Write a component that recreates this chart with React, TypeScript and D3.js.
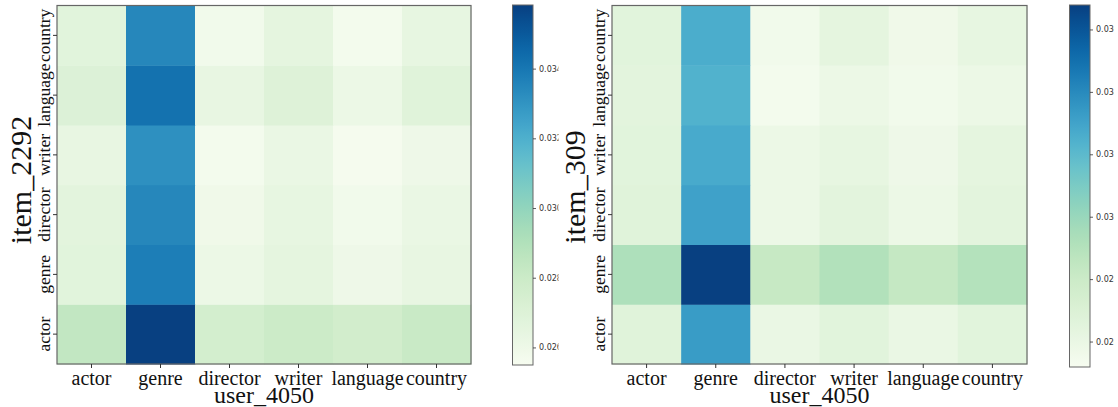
import React from "react";
import * as d3 from "d3";

const userCats = ["actor", "genre", "director", "writer", "language", "country"];
const itemCats = ["actor", "genre", "director", "writer", "language", "country"];

// rows: item category (actor..country), cols: user category (actor..country)
const leftValues: number[][] = [
  [0.0284, 0.03584, 0.02758, 0.02799, 0.02768, 0.02809],
  [0.02675, 0.03377, 0.02613, 0.02654, 0.02603, 0.02634],
  [0.02665, 0.03346, 0.02592, 0.02644, 0.02582, 0.02623],
  [0.02634, 0.03315, 0.02572, 0.02623, 0.02561, 0.02603],
  [0.02706, 0.03419, 0.02634, 0.02696, 0.02613, 0.02685],
  [0.02675, 0.03346, 0.02582, 0.02654, 0.02572, 0.02644],
];
const rightValues: number[][] = [
  [0.02671, 0.03332, 0.02601, 0.02659, 0.02601, 0.02659],
  [0.02926, 0.0368, 0.02822, 0.02914, 0.02833, 0.02903],
  [0.02671, 0.03309, 0.0259, 0.02648, 0.0259, 0.02648],
  [0.02659, 0.03274, 0.0259, 0.02624, 0.02578, 0.02636],
  [0.02648, 0.03239, 0.02543, 0.0259, 0.02555, 0.0259],
  [0.02659, 0.03262, 0.02555, 0.02636, 0.02566, 0.02624],
];
const leftDomain = [0.02551, 0.03584];
const rightDomain = [0.0252, 0.0368];
const leftTicks = [0.026, 0.028, 0.03, 0.032, 0.034];
const rightTicks = [0.026, 0.028, 0.03, 0.032, 0.034, 0.036];

const serif = "'Liberation Serif', 'Times New Roman', serif";
const sans = "'DejaVu Sans', sans-serif";

type PanelProps = {
  id: string;
  values: number[][];
  domain: number[];
  ticks: number[];
  x0: number;
  x1: number;
  cbX: number;
  cbBottom: number;
  clipRight: number;
  yTitle: string;
  yTitleX: number;
  yTitleY: number;
};

function Panel(p: PanelProps) {
  const top = 5.5;
  const bottom = 364;
  const xs = d3.scaleBand<string>().domain(userCats).range([p.x0, p.x1]);
  const ys = d3.scaleBand<string>().domain(itemCats).range([bottom, top]);
  const color = d3.scaleSequential(d3.interpolateGnBu).domain(p.domain as [number, number]);
  const cbTop = 5;
  const cbW = 20.5;
  const cbScale = d3.scaleLinear().domain(p.domain).range([p.cbBottom, cbTop]);
  const stops = d3.range(0, 1.0001, 0.02);
  const gradId = `grad-${p.id}`;
  const clipId = `clip-${p.id}`;
  const fmt = d3.format(".3f");
  return (
    <g>
      <defs>
        <linearGradient id={gradId} x1="0" y1="1" x2="0" y2="0">
          {stops.map((s) => (
            <stop key={s} offset={s} stopColor={d3.interpolateGnBu(s)} />
          ))}
        </linearGradient>
        <clipPath id={clipId}>
          <rect x={p.cbX} y={0} width={p.clipRight - p.cbX} height={407} />
        </clipPath>
      </defs>
      {p.values.map((row, ri) =>
        row.map((v, ci) => (
          <rect
            key={`${ri}-${ci}`}
            x={xs(userCats[ci])}
            y={ys(itemCats[ri])}
            width={xs.bandwidth() + 0.5}
            height={ys.bandwidth() + 0.5}
            fill={color(v)}
          />
        ))
      )}
      <rect x={p.x0} y={top} width={p.x1 - p.x0} height={bottom - top} fill="none" stroke="#666" strokeWidth={1.2} />
      {userCats.map((c) => {
        const cx = (xs(c) as number) + xs.bandwidth() / 2;
        return (
          <g key={c}>
            <line x1={cx} x2={cx} y1={bottom} y2={bottom + 4} stroke="#333" strokeWidth={1} />
            <text x={cx} y={385} textAnchor="middle" fontFamily={serif} fontSize={20} fill="#111">
              {c}
            </text>
          </g>
        );
      })}
      {itemCats.map((c) => {
        const cy = (ys(c) as number) + ys.bandwidth() / 2;
        return (
          <g key={c}>
            <line x1={p.x0} x2={p.x0 - 4} y1={cy} y2={cy} stroke="#333" strokeWidth={1} />
            <text
              transform={`translate(${p.x0 - 7},${cy}) rotate(-90)`}
              textAnchor="middle"
              fontFamily={serif}
              fontSize={17.5}
              fill="#111"
            >
              {c}
            </text>
          </g>
        );
      })}
      <text x={(p.x0 + p.x1) / 2} y={403} textAnchor="middle" fontFamily={serif} fontSize={24} fill="#111">
        user_4050
      </text>
      <text
        transform={`translate(${p.yTitleX},${p.yTitleY}) rotate(-90)`}
        textAnchor="middle"
        fontFamily={serif}
        fontSize={30}
        fill="#111"
      >
        {p.yTitle}
      </text>
      <rect x={p.cbX} y={cbTop} width={cbW} height={p.cbBottom - cbTop} fill={`url(#${gradId})`} stroke="#666" strokeWidth={1} />
      <g clipPath={`url(#${clipId})`}>
        {p.ticks.map((t) => (
          <g key={t}>
            <line x1={p.cbX + cbW} x2={p.cbX + cbW + 3} y1={cbScale(t)} y2={cbScale(t)} stroke="#333" strokeWidth={0.8} />
            <text x={p.cbX + cbW + 6} y={cbScale(t)} dominantBaseline="central" fontFamily={sans} fontSize={8} fill="#333">
              {fmt(t)}
            </text>
          </g>
        ))}
      </g>
    </g>
  );
}

export default function App() {
  return (
    <div style={{ position: "fixed", left: 0, top: 0, width: 1118, height: 407, background: "#fff" }}>
      <svg width={1118} height={407} style={{ display: "block" }}>
        <rect width={1118} height={407} fill="#fff" />
        <Panel
          id="l"
          values={leftValues}
          domain={leftDomain}
          ticks={leftTicks}
          x0={57}
          x1={471}
          cbX={512.5}
          cbBottom={365}
          clipRight={558.5}
          yTitle="item_2292"
          yTitleX={31}
          yTitleY={180}
        />
        <Panel
          id="r"
          values={rightValues}
          domain={rightDomain}
          ticks={rightTicks}
          x0={612}
          x1={1027}
          cbX={1069.5}
          cbBottom={367}
          clipRight={1114}
          yTitle="item_309"
          yTitleX={585}
          yTitleY={187}
        />
      </svg>
    </div>
  );
}
